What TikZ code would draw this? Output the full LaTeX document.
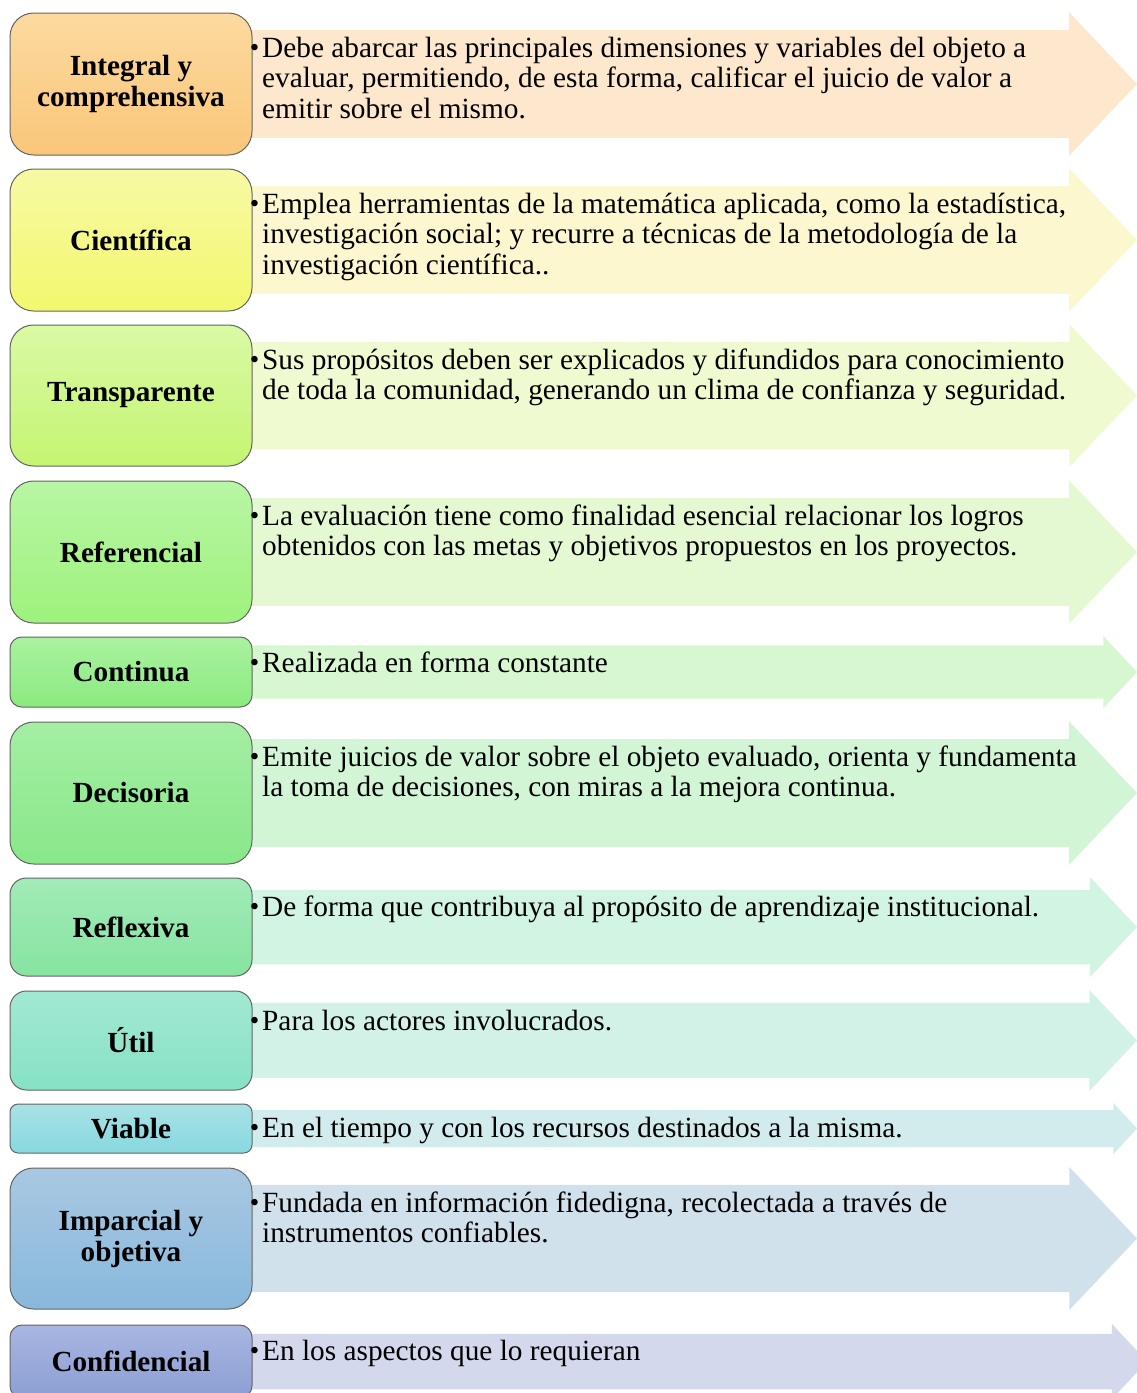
\documentclass[tikz,border=0pt]{standalone}
\usepackage{fontspec}
\setmainfont{Liberation Serif}
% box colours (top / bottom) and arrow colours
\definecolor{b1t}{HTML}{FCDA9F}\definecolor{b1b}{HTML}{FAC67A}\definecolor{a1}{HTML}{FDE7CD}
\definecolor{b2t}{HTML}{F7F9A4}\definecolor{b2b}{HTML}{F3F86E}\definecolor{a2}{HTML}{FCF7CF}
\definecolor{b3t}{HTML}{DAF9A4}\definecolor{b3b}{HTML}{C4F572}\definecolor{a3}{HTML}{F0FAD0}
\definecolor{b4t}{HTML}{B8F6A4}\definecolor{b4b}{HTML}{9EF27C}\definecolor{a4}{HTML}{E4F9D2}
\definecolor{b5t}{HTML}{AAF2A0}\definecolor{b5b}{HTML}{8BEA80}\definecolor{a5}{HTML}{D6F7D0}
\definecolor{b6t}{HTML}{A4EEA4}\definecolor{b6b}{HTML}{88E888}\definecolor{a6}{HTML}{D2F5D6}
\definecolor{b7t}{HTML}{A2EBB8}\definecolor{b7b}{HTML}{86E4A0}\definecolor{a7}{HTML}{D2F4E2}
\definecolor{b8t}{HTML}{A2E8D2}\definecolor{b8b}{HTML}{86E2C6}\definecolor{a8}{HTML}{D2F2E8}
\definecolor{b9t}{HTML}{A8E2E6}\definecolor{b9b}{HTML}{88D8E0}\definecolor{a9}{HTML}{D2ECEE}
\definecolor{b10t}{HTML}{A8C8E2}\definecolor{b10b}{HTML}{88B8DC}\definecolor{a10}{HTML}{D1E1EB}
\definecolor{b11t}{HTML}{A8B6E0}\definecolor{b11b}{HTML}{8C9ED4}\definecolor{a11}{HTML}{D3D8EC}
\definecolor{boxline}{HTML}{646464}

\newcommand{\evbul}{\llap{\raisebox{1pt}{\fontsize{27}{27}\selectfont\textbullet}\hspace{3pt}}}
% #1 id, #2 top, #3 bottom, #4 title, #5 body text, #6 tip x
\newcommand{\evrow}[6]{%
  \pgfmathsetmacro\evh{#3-#2}%
  \pgfmathsetmacro\evins{0.12*\evh}%
  \pgfmathsetmacro\evhw{0.48*\evh}%
  \pgfmathsetmacro\evhx{#6-\evhw}%
  \pgfmathsetmacro\evmidy{(#2+#3)/2}%
  \pgfmathsetmacro\evrr{\evh/6}%
  \fill[a#1] (252,#2+\evins) -- (\evhx,#2+\evins) -- (\evhx,#2-1) -- (#6,\evmidy)
     -- (\evhx,#3+1) -- (\evhx,#3-\evins) -- (252,#3-\evins) -- cycle;
  \node[titlebox, minimum height=\evh pt, rounded corners=\evrr pt,
        top color=b#1t, bottom color=b#1b] (box#1) at (131,\evmidy) {#4};
  \node[bodytext] (txt#1) at (262,#2+\evins+5) {\rule{0pt}{22pt}\evbul#5};
}

\begin{document}
\begin{tikzpicture}[x=1pt,y=-1pt,
  titlebox/.style={draw=boxline, line width=1pt, minimum width=242pt, inner sep=0pt,
     align=center, font=\fontsize{29.2}{31}\selectfont\bfseries},
  bodytext/.style={anchor=north west, inner sep=0pt, align=left,
     font=\fontsize{29.3}{30.5}\selectfont}]
\useasboundingbox (0,0) rectangle (1137,1393);
\clip (0,0) rectangle (1137,1393);

\evrow{1}{13}{155}{Integral y\\comprehensiva}{Debe abarcar las principales dimensiones y variables del objeto a\\evaluar, permitiendo, de esta forma, calificar el juicio de valor a\\emitir sobre el mismo.}{1137}
\evrow{2}{169}{311}{Científica}{Emplea herramientas de la matemática aplicada, como la estadística,\\investigación social; y recurre a técnicas de la metodología de la\\investigación científica..}{1137}
\evrow{3}{325}{466}{Transparente}{Sus propósitos deben ser explicados y difundidos para conocimiento\\de toda la comunidad, generando un clima de confianza y seguridad.}{1137}
\evrow{4}{481}{623}{Referencial}{La evaluación tiene como finalidad esencial relacionar los logros\\obtenidos con las metas y objetivos propuestos en los proyectos.}{1137}
\evrow{5}{637}{707}{Continua}{Realizada en forma constante}{1137}
\evrow{6}{722}{864}{Decisoria}{Emite juicios de valor sobre el objeto evaluado, orienta y fundamenta\\la toma de decisiones, con miras a la mejora continua.}{1137}
\evrow{7}{878}{976}{Reflexiva}{De forma que contribuya al propósito de aprendizaje institucional.}{1137}
\evrow{8}{991}{1090}{Útil}{Para los actores involucrados.}{1137}
\evrow{9}{1104}{1153}{Viable}{En el tiempo y con los recursos destinados a la misma.}{1137}
\evrow{10}{1168}{1309}{Imparcial y\\objetiva}{Fundada en información fidedigna, recolectada a través de\\instrumentos confiables.}{1137}
\evrow{11}{1325}{1398}{Confidencial}{En los aspectos que lo requieran}{1147}
\end{tikzpicture}
\end{document}
